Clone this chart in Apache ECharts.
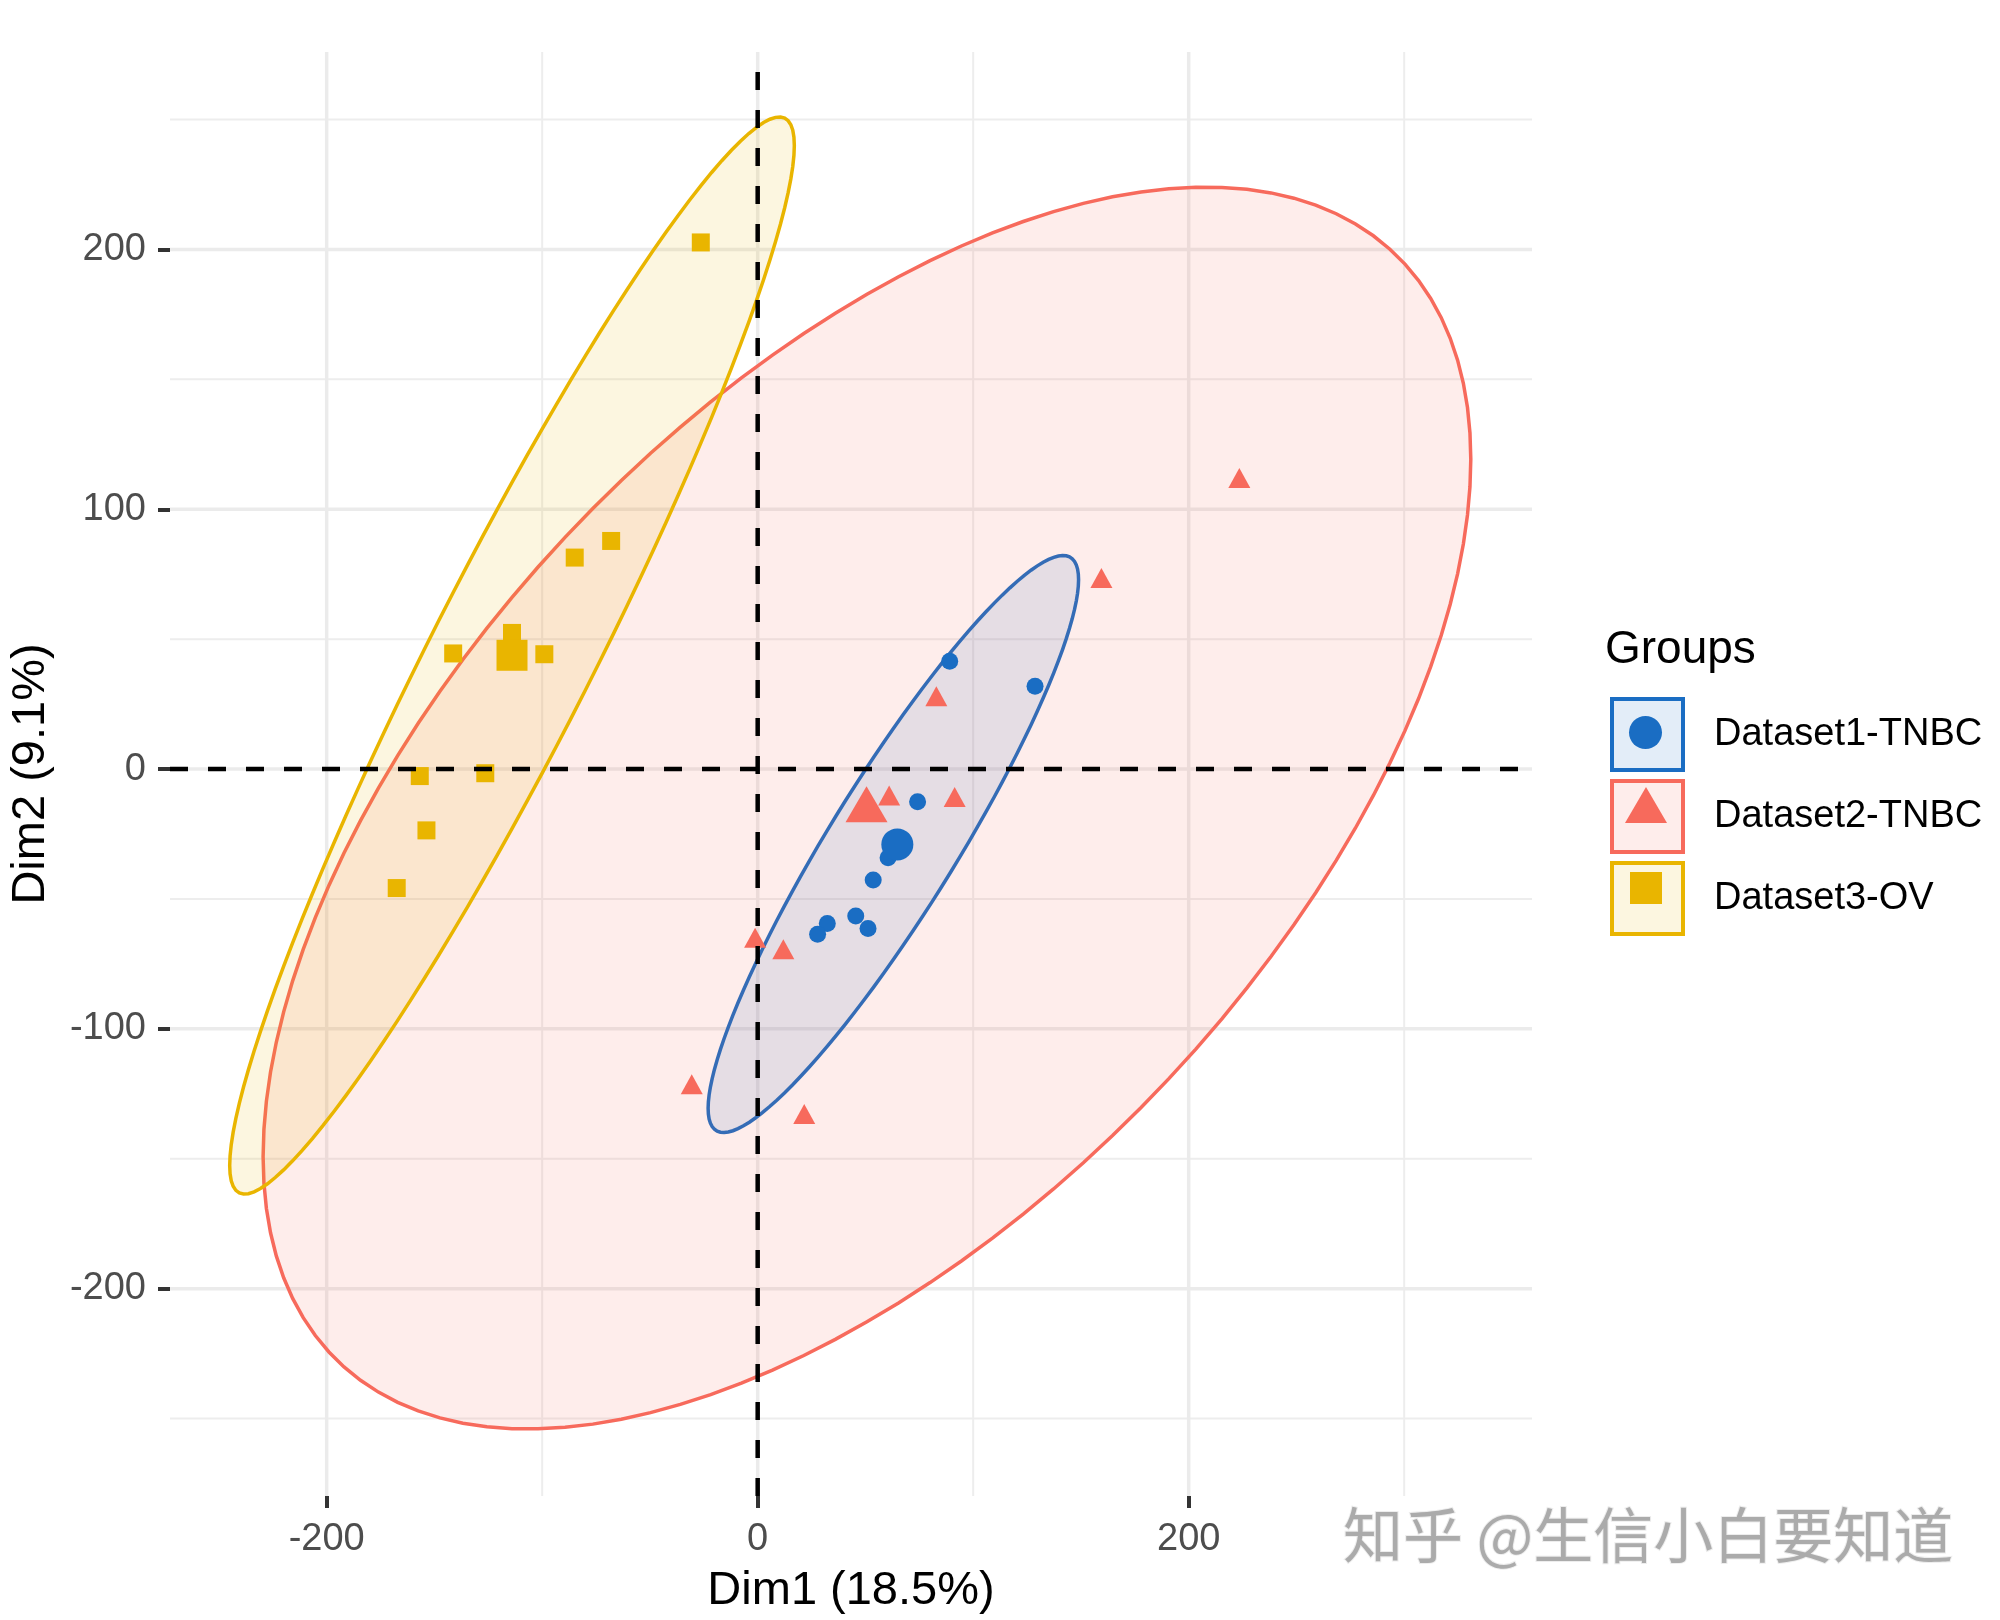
<!DOCTYPE html>
<html>
<head>
<meta charset="utf-8">
<title>Individuals - PCA</title>
<script src="https://cdn.jsdelivr.net/npm/echarts@6.0.0/dist/echarts.min.js"></script>
<style>
    html, body { margin: 0; padding: 0; background: #fff; }
    #main { width: 2000px; height: 1620px; }
</style>
</head>
<body>
<div id="main"></div>
<script>
// groups
var groupNames = ['Dataset1-TNBC', 'Dataset2-TNBC', 'Dataset3-OV'];
var groupColors = ['#1A6DC3', '#F76A5C', '#E9B500'];
var groupFills = ['rgba(26,109,195,0.12)', 'rgba(247,106,92,0.12)', 'rgba(233,181,0,0.12)'];
var groupSymbols = ['circle', 'triangle', 'rect'];

// individuals [Dim1, Dim2]
var tnbc1Points = [[89.1, 41.5], [128.7, 31.9], [74.2, -12.6], [60.5, -34.1], [53.6, -42.7],
    [32.3, -59.4], [27.8, -63.6], [45.5, -56.6], [51.2, -61.4]];
var tnbc2Points = [[82.9, 28], [61, -10.2], [91.4, -10.8], [-1.2, -64.9], [11.9, -69.4],
    [-30.6, -121.3], [21.6, -132.8], [223.5, 112], [159.5, 73.5]];
var ovPoints = [[-26.4, 202.7], [-84.9, 81.4], [-68, 87.8], [-141.3, 44.5], [-114, 52.4],
    [-99, 44.2], [-156.8, -2.7], [-126.4, -1.6], [-153.7, -23.6], [-167.5, -45.8]];

// group mean points (big symbols)
var groupMeans = [[64.8, -29], [50.5, -13.5], [-114, 43.8]];

// confidence ellipses: centre, half width, half height, Dim2 offset at the rightmost point
var ellipseCenterX = [62.95, 50.7, -114];
var ellipseCenterY = [-28.85, -15, 43.7];
var ellipseHalfW = [85.95, 280.2, 131];
var ellipseHalfH = [111.05, 239, 207.3];
var ellipseTilt = [101.75, 134.2, 196.3];

// axes
var xRange = [-272.7, 359.3];
var yRange = [-279.8, 276];
var xMajorBreaks = [-200, 0, 200];
var xMinorBreaks = [-100, 100, 300];
var yMajorBreaks = [-200, -100, 0, 100, 200];
var yMinorBreaks = [-250, -150, -50, 50, 150, 250];

var groupPoints = [tnbc1Points, tnbc2Points, ovPoints];
var FONT = '"Liberation Sans", Arial, sans-serif';

function ellipseOutline(i) {
    var pts = [];
    var b = Math.sqrt(ellipseHalfH[i] * ellipseHalfH[i] - ellipseTilt[i] * ellipseTilt[i]);
    var n = 120;
    for (var s = 0; s < n; s++) {
        var t = s / n * 2 * Math.PI;
        pts.push([
            ellipseCenterX[i] + ellipseHalfW[i] * Math.cos(t),
            ellipseCenterY[i] + ellipseTilt[i] * Math.cos(t) + b * Math.sin(t)
        ]);
    }
    return pts;
}

// straight lines across the panel (grid lines, zero lines)
function panelLines(name, values, vertical, style, z) {
    return {
        name: name,
        type: 'custom',
        silent: true,
        z: z,
        data: values.map(function (v) { return vertical ? [v, 0] : [0, v]; }),
        renderItem: function (params, api) {
            var p1, p2;
            if (vertical) {
                p1 = api.coord([api.value(0), yRange[0]]);
                p2 = api.coord([api.value(0), yRange[1]]);
            } else {
                p1 = api.coord([xRange[0], api.value(1)]);
                p2 = api.coord([xRange[1], api.value(1)]);
            }
            return {
                type: 'line',
                shape: { x1: p1[0], y1: p1[1], x2: p2[0], y2: p2[1] },
                style: style
            };
        }
    };
}

var series = [];
series.push(panelLines('gridXMinor', xMinorBreaks, true, { stroke: '#EDEDED', lineWidth: 2 }, 0));
series.push(panelLines('gridYMinor', yMinorBreaks, false, { stroke: '#EDEDED', lineWidth: 2 }, 0));
series.push(panelLines('gridXMajor', xMajorBreaks, true, { stroke: '#EBEBEB', lineWidth: 3.5 }, 0));
series.push(panelLines('gridYMajor', yMajorBreaks, false, { stroke: '#EBEBEB', lineWidth: 3.5 }, 0));

groupNames.forEach(function (g, i) {
    series.push({
        name: g,
        type: 'custom',
        z: 1,
        silent: true,
        data: [[ellipseCenterX[i], ellipseCenterY[i]]],
        renderItem: function (params, api) {
            var pts = ellipseOutline(i).map(function (p) { return api.coord(p); });
            return {
                type: 'polygon',
                shape: { points: pts },
                style: { fill: groupFills[i], stroke: groupColors[i], lineWidth: 3.5 }
            };
        }
    });
});

var smallSizes = [17, [22, 20], 18];
var bigSizes = [32, [42, 36], 31];
groupNames.forEach(function (g, i) {
    series.push({
        name: g,
        type: 'scatter',
        z: 3,
        symbol: groupSymbols[i],
        symbolSize: smallSizes[i],
        itemStyle: { color: groupColors[i], opacity: 1 },
        data: groupPoints[i]
    });
    series.push({
        name: g,
        type: 'scatter',
        z: 3,
        symbol: groupSymbols[i],
        symbolSize: bigSizes[i],
        itemStyle: { color: groupColors[i], opacity: 1 },
        data: [groupMeans[i]]
    });
});

var dashStyle = { stroke: '#000', lineWidth: 4.5, lineDash: [18, 20] };
series.push(panelLines('zeroX', [0], true, dashStyle, 4));
series.push(panelLines('zeroY', [0], false, dashStyle, 4));

// legend: key boxes with text, then the point shapes laid over them
var legends = [{
    orient: 'vertical',
    left: 1610,
    top: 697,
    padding: 0,
    itemWidth: 71,
    itemHeight: 71,
    itemGap: 7,
    selectedMode: false,
    textStyle: { fontSize: 38, color: '#000', fontFamily: FONT, padding: [0, 0, 0, 26] },
    data: groupNames.map(function (g, i) {
        return {
            name: g,
            icon: 'rect',
            itemStyle: { color: groupFills[i], borderColor: groupColors[i], borderWidth: 4, opacity: 1 }
        };
    })
}];
var keyShapes = [
    { left: 1629, top: 716, w: 33, h: 33 },
    { left: 1625, top: 787, w: 42, h: 36 },
    { left: 1630, top: 872, w: 32, h: 32 }
];
groupNames.forEach(function (g, i) {
    legends.push({
        left: keyShapes[i].left,
        top: keyShapes[i].top,
        padding: 0,
        itemWidth: keyShapes[i].w,
        itemHeight: keyShapes[i].h,
        selectedMode: false,
        formatter: function () { return ''; },
        textStyle: { fontSize: 1 },
        data: [{
            name: g,
            icon: groupSymbols[i],
            itemStyle: { color: groupColors[i], borderWidth: 0, opacity: 1 }
        }]
    });
});

var option = {
    backgroundColor: '#fff',
    animation: false,
    title: {
        text: 'Groups',
        left: 1605,
        top: 627,
        padding: 0,
        textStyle: { fontSize: 46, fontWeight: 'normal', color: '#000', fontFamily: FONT }
    },
    legend: legends,
    grid: { left: 167, right: 468, top: 52, bottom: 123, containLabel: false },
    xAxis: {
        type: 'value',
        min: xRange[0],
        max: xRange[1],
        name: 'Dim1 (18.5%)',
        nameLocation: 'middle',
        nameGap: 72,
        nameTextStyle: { fontSize: 47, color: '#000', fontFamily: FONT },
        axisLine: { show: false, onZero: false },
        splitLine: { show: false },
        axisTick: { show: true, length: 12, lineStyle: { color: '#333', width: 4 }, customValues: xMajorBreaks },
        axisLabel: { customValues: xMajorBreaks, margin: 25, fontSize: 38, color: '#4D4D4D', fontFamily: FONT }
    },
    yAxis: {
        type: 'value',
        min: yRange[0],
        max: yRange[1],
        name: 'Dim2 (9.1%)',
        nameLocation: 'middle',
        nameGap: 115,
        nameTextStyle: { fontSize: 47, color: '#000', fontFamily: FONT },
        axisLine: { show: false, onZero: false },
        splitLine: { show: false },
        axisTick: { show: true, length: 12, lineStyle: { color: '#333', width: 4 }, customValues: yMajorBreaks },
        axisLabel: { customValues: yMajorBreaks, margin: 24, fontSize: 38, color: '#4D4D4D', fontFamily: FONT }
    },
    graphic: [{
        type: 'text',
        left: 1342,
        top: 1504,
        silent: true,
        style: {
            text: '知乎 @生信小白要知道',
            fontSize: 60,
            fontFamily: '"Noto Sans CJK SC", sans-serif',
            fill: '#ABABAB',
            stroke: '#EDEDED',
            lineWidth: 2
        }
    }],
    series: series
};

var myChart = echarts.init(document.getElementById('main'));
myChart.setOption(option);
</script>
</body>
</html>
